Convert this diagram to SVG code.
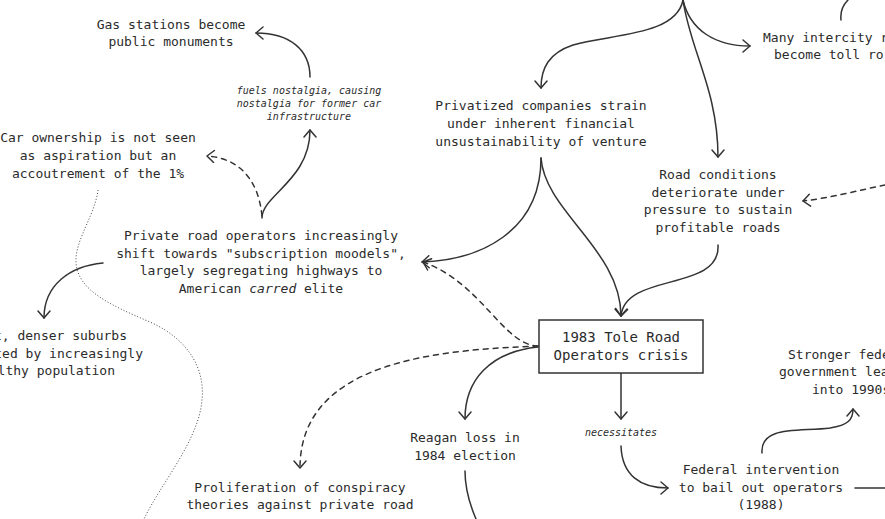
<svg xmlns="http://www.w3.org/2000/svg" width="885" height="519" viewBox="0 0 885 519">
<style>
  .t { font-family: "DejaVu Sans Mono", "Liberation Mono", monospace; font-size: 13px; fill: #2b2b2b; text-anchor: middle; }
  .ts { text-anchor: start; }
  .te { text-anchor: end; }
  .box { font-size: 14px; }
  .lbl { font-family: "DejaVu Sans Mono", "Liberation Mono", monospace; font-size: 10px; font-style: italic; fill: #2b2b2b; text-anchor: middle; }
  .c { fill: none; stroke: #333; stroke-width: 1.5; stroke-linecap: round; }
  .a { marker-end: url(#arr); }
  .d { stroke-dasharray: 5 5; }
  .dot { fill: none; stroke: #444; stroke-width: 1; stroke-dasharray: 1 2; }
</style>
<defs>
  <marker id="arr" markerUnits="userSpaceOnUse" markerWidth="14" markerHeight="14" viewBox="0 0 14 14" refX="11" refY="7" orient="auto">
    <path d="M4,1 L11,7 L4,13" fill="none" stroke="#333" stroke-width="1.5" stroke-linecap="round" stroke-linejoin="round"/>
  </marker>
</defs>
<rect width="885" height="519" fill="#ffffff"/>

<g id="connectors">
  <path class="c a" d="M683,0 C676,36 610,34 573,45 C549,53 541,68 541,88"/>
  <path class="c a" d="M683,0 C690,50 718,90 718,157"/>
  <path class="c a" d="M683,0 C690,30 715,46 750,46"/>
  <path class="c" d="M841,20 C840,11 844,4 848,0"/>
  <path class="c a d" d="M885,185 C860,190 830,198 803,201"/>
  <path class="c a" d="M541,158 C541,232 480,260 422,262"/>
  <path class="c a" d="M541,158 C545,212 621,250 621,316"/>
  <path class="c a" d="M718,245 C721,292 625,272 621,316"/>
  <path class="c a d" d="M538,346 C503,345 482,283 423,262"/>
  <path class="c a d" d="M538,346 C440,350 300,360 300,468"/>
  <path class="c a" d="M538,347 C490,352 465,380 465,419"/>
  <path class="c a" d="M621,373 L621,419"/>
  <path class="c a" d="M621,446 C622,475 640,488 668,488"/>
  <path class="c a" d="M762,453 C760,425 800,432 830,428 C848,425 853,420 853,409"/>
  <path class="c" d="M855,488 L885,488"/>
  <path class="c" d="M465,471 C465,490 470,505 476,519"/>
  <path class="c a" d="M262,218 C262,195 310,180 310,130"/>
  <path class="c a" d="M310,77 C310,50 290,33 256,33"/>
  <path class="c a d" d="M262,216 C258,176 236,158 207,156"/>
  <path class="c a" d="M103,263 C70,266 44,285 44,318"/>
  <path class="dot" d="M98,190 C95,215 75,240 76,262 C77,290 110,305 150,322 C190,340 205,370 202,400 C199,440 160,485 144,519"/>
</g>

<g id="gas-stations">
  <text class="t" x="171" y="29">Gas stations become</text>
  <text class="t" x="171" y="46">public monuments</text>
</g>

<g id="label-fuels">
  <text class="lbl" x="309" y="94">fuels nostalgia, causing</text>
  <text class="lbl" x="309" y="107">nostalgia for former car</text>
  <text class="lbl" x="309" y="120">infrastructure</text>
</g>

<g id="car-ownership">
  <text class="t" x="98" y="142">Car ownership is not seen</text>
  <text class="t" x="98" y="160">as aspiration but an</text>
  <text class="t" x="98" y="178">accoutrement of the 1%</text>
</g>

<g id="private-road-operators">
  <text class="t" x="261" y="240">Private road operators increasingly</text>
  <text class="t" x="261" y="258">shift towards "subscription moodels",</text>
  <text class="t" x="261" y="275">largely segregating highways to</text>
  <text class="t" x="261" y="293">American <tspan font-style="italic">carred</tspan> elite</text>
</g>

<g id="denser-suburbs">
  <text class="t te" x="127" y="340">t, denser suburbs</text>
  <text class="t te" x="143" y="358">ted by increasingly</text>
  <text class="t te" x="115" y="375">lthy population</text>
</g>

<g id="privatized-companies">
  <text class="t" x="541" y="110">Privatized companies strain</text>
  <text class="t" x="541" y="128">under inherent financial</text>
  <text class="t" x="541" y="146">unsustainability of venture</text>
</g>

<g id="road-conditions">
  <text class="t" x="718" y="179">Road conditions</text>
  <text class="t" x="718" y="197">deteriorate under</text>
  <text class="t" x="718" y="214">pressure to sustain</text>
  <text class="t" x="718" y="232">profitable roads</text>
</g>

<g id="intercity">
  <text class="t ts" x="763" y="42">Many intercity r</text>
  <text class="t ts" x="774" y="59">become toll ro</text>
</g>

<g id="crisis">
  <rect x="539" y="320" width="164" height="53" fill="#ffffff" stroke="#333" stroke-width="1.5"/>
  <text class="t box" x="621" y="342">1983 Tole Road</text>
  <text class="t box" x="621" y="360">Operators crisis</text>
</g>

<g id="label-necessitates">
  <text class="lbl" x="621" y="436">necessitates</text>
</g>

<g id="reagan">
  <text class="t" x="465" y="442">Reagan loss in</text>
  <text class="t" x="465" y="460">1984 election</text>
</g>

<g id="federal-intervention">
  <text class="t" x="761" y="474">Federal intervention</text>
  <text class="t" x="761" y="492">to bail out operators</text>
  <text class="t" x="761" y="509">(1988)</text>
</g>

<g id="stronger-federal">
  <text class="t ts" x="788" y="359">Stronger fede</text>
  <text class="t ts" x="779" y="376">government lea</text>
  <text class="t ts" x="812" y="394">into 1990s</text>
</g>

<g id="conspiracy">
  <text class="t" x="300" y="492">Proliferation of conspiracy</text>
  <text class="t" x="300" y="509">theories against private road</text>
</g>
</svg>
